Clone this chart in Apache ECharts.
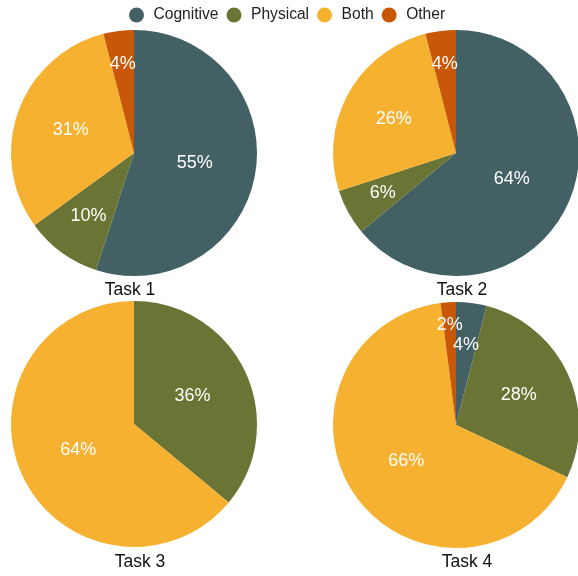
<!DOCTYPE html>
<html>
<head>
<meta charset="utf-8">
<script src="https://cdn.jsdelivr.net/npm/echarts@6/dist/echarts.min.js"></script>
<style>
  html, body { margin: 0; padding: 0; background: #fff; }
  #chart { width: 578px; height: 576px; }
</style>
</head>
<body>
<div id="chart"></div>
<script>
// Response type shares (%) for each task
const categories = ['Cognitive', 'Physical', 'Both', 'Other'];
const taskNames = ['Task 1', 'Task 2', 'Task 3', 'Task 4'];
const task1 = [55, 10, 31, 4];
const task2 = [64, 6, 26, 4];
const task3 = [0, 36, 64, 0];
const task4 = [4, 28, 66, 2];
const taskValues = [task1, task2, task3, task4];

const colors = ['#436164', '#6a7434', '#f6b130', '#c85707'];
const FONT = "'Liberation Sans', Arial, Helvetica, sans-serif";

// 2x2 grid of pies
const R = 123;
const centers = [[134, 153], [456, 153], [134, 424], [456, 425]];
const titlePos = [[130, 290], [462, 290], [140, 562], [467, 562]];

// Radial position (fraction of radius) of an inside label:
// centre of the slice's inscribed circle, kept from drifting too far out on thin slices
function labelFrac(p) {
  const half = p / 100 * Math.PI;
  const inscribed = half >= Math.PI / 2 ? 0.5 : Math.sin(half) / (1 + Math.sin(half));
  const centre = 1 - inscribed;
  const limit = 0.60 + 0.36 * Math.exp(-p / 4);
  return Math.min(centre, limit);
}

// Compute label centres for one pie, nudging labels inward when they collide
function labelPositions(values, center) {
  const total = values.reduce((a, b) => a + b, 0);
  let acc = 0;
  const items = values.map((v, i) => {
    const mid = (acc + v / 2) / total * Math.PI * 2;
    acc += v;
    return { i, v, mid, frac: labelFrac(v / total * 100), w: String(v).length * 10 + 16, h: 18 };
  });
  const pos = it => [center[0] + Math.sin(it.mid) * it.frac * R, center[1] - Math.cos(it.mid) * it.frac * R];
  const shown = items.filter(it => it.v > 0);
  const overlaps = (a, b) => {
    const pa = pos(a), pb = pos(b);
    return Math.abs(pa[0] - pb[0]) < (a.w + b.w) / 2 && Math.abs(pa[1] - pb[1]) < (a.h + b.h) / 2 + 2;
  };
  for (let k = 0; k < shown.length; k++) {
    for (let m = k + 1; m < shown.length; m++) {
      const a = shown[k], b = shown[m];
      const mover = a.v >= b.v ? a : b;
      let guard = 0;
      while (overlaps(a, b) && mover.frac > 0.3 && guard++ < 200) mover.frac -= 0.01;
    }
  }
  return items.map(pos);
}

const series = taskValues.map((vals, t) => {
  const lp = labelPositions(vals, centers[t]);
  return {
    type: 'pie',
    name: taskNames[t],
    center: centers[t],
    radius: [0, R],
    startAngle: 90,
    clockwise: true,
    silent: true,
    animation: false,
    itemStyle: { borderWidth: 0 },
    label: {
      show: true,
      position: 'inside',
      formatter: '{c}%',
      color: '#ffffff',
      fontSize: 18,
      fontFamily: FONT
    },
    labelLine: { show: false },
    labelLayout: function (params) {
      const p = lp[params.dataIndex];
      return { x: p[0], y: p[1], align: 'center', verticalAlign: 'middle' };
    },
    data: categories.map((c, i) => ({
      name: c,
      value: vals[i],
      itemStyle: { color: colors[i] },
      label: { show: vals[i] > 0 }
    }))
  };
});

const chart = echarts.init(document.getElementById('chart'), null, { renderer: 'canvas' });
chart.setOption({
  backgroundColor: '#ffffff',
  animation: false,
  color: colors,
  legend: {
    data: categories,
    top: 2,
    left: 124,
    icon: 'circle',
    itemWidth: 24,
    itemHeight: 15,
    itemGap: 8,
    textStyle: { fontSize: 15.6, color: '#222', fontFamily: FONT }
  },
  graphic: taskNames.map((name, t) => ({
    type: 'text',
    x: titlePos[t][0],
    y: titlePos[t][1],
    style: {
      text: name,
      fill: '#111',
      fontSize: 17.5,
      fontFamily: FONT,
      textAlign: 'center',
      textVerticalAlign: 'middle'
    }
  })),
  series: series
});
</script>
</body>
</html>
